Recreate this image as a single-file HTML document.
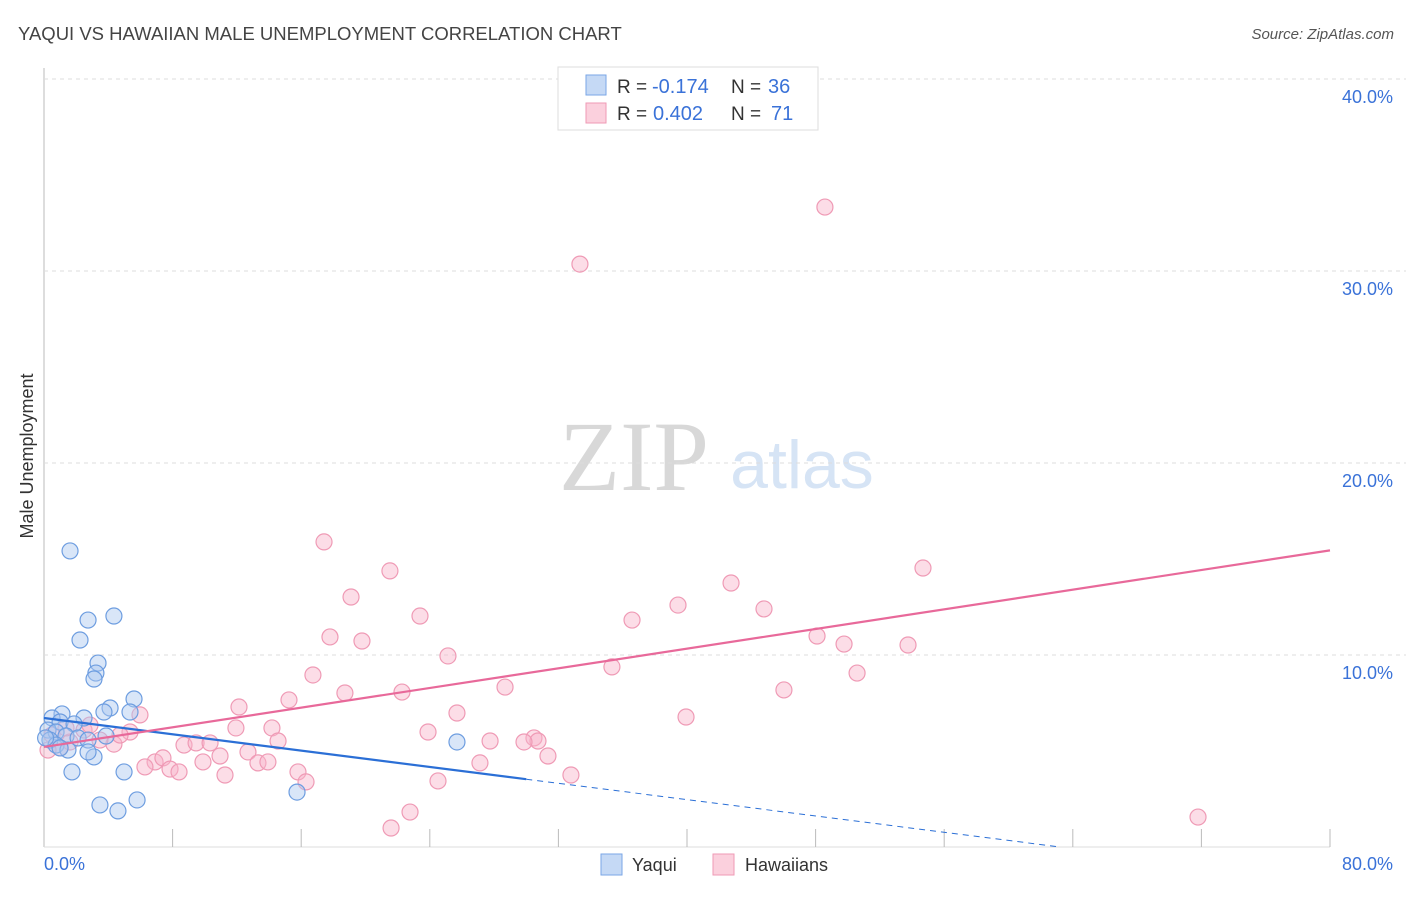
<!DOCTYPE html>
<html><head><meta charset="utf-8"><style>
body{margin:0;background:#fff;font-family:"Liberation Sans",sans-serif}
</style></head><body>
<svg id="c" width="1406" height="892" font-family="Liberation Sans, sans-serif" xmlns="http://www.w3.org/2000/svg">
<text x="18" y="40" font-size="18.5" fill="#444">YAQUI VS HAWAIIAN MALE UNEMPLOYMENT CORRELATION CHART</text>
<text x="1394" y="39" font-size="15" fill="#555" text-anchor="end" font-style="italic">Source: ZipAtlas.com</text>
<g>
<text x="634" y="490" font-size="100" fill="#d8d8d8" text-anchor="middle" style="font-family:'Liberation Serif',serif">ZIP</text>
<text x="802" y="488" font-size="68" fill="#d6e4f5" text-anchor="middle">atlas</text>
</g>
<text transform="translate(33,456) rotate(-90)" font-size="18" fill="#333" text-anchor="middle">Male Unemployment</text>
<g id="grid"></g><g id="marks"></g>
<g>
<rect x="558" y="67" width="260" height="63" fill="#fff" stroke="#ddd"/>
<rect x="586" y="75" width="20" height="20" fill="#c5d9f5" stroke="#7aa6e6"/>
<rect x="586" y="103" width="20" height="20" fill="#fbd0dd" stroke="#ef9ab5"/>
<text x="617" y="93" font-size="19" fill="#333">R =</text>
<text x="652" y="93" font-size="20" fill="#3a72d8">-0.174</text>
<text x="731" y="93" font-size="19" fill="#333">N =</text>
<text x="768" y="93" font-size="20" fill="#3a72d8">36</text>
<text x="617" y="120" font-size="19" fill="#333">R =</text>
<text x="653" y="120" font-size="20" fill="#3a72d8">0.402</text>
<text x="731" y="120" font-size="19" fill="#333">N =</text>
<text x="771" y="120" font-size="20" fill="#3a72d8">71</text>
</g>
<g>
<rect x="601" y="854" width="21" height="21" fill="#c5d9f5" stroke="#7aa6e6"/>
<text x="632" y="871" font-size="18" fill="#333">Yaqui</text>
<rect x="713" y="854" width="21" height="21" fill="#fbd0dd" stroke="#ef9ab5"/>
<text x="745" y="871" font-size="18" fill="#333">Hawaiians</text>
</g>
</svg>
<script>
const yTicks=[10,20,30,40];
const yTickLabels=["10.0%","20.0%","30.0%","40.0%"];
const yaquiX=[1.62,2.74,4.35,2.24,3.36,3.23,3.11,5.60,4.11,3.73,1.12,0.50,1.00,2.49,1.87,0.25,0.75,1.37,2.12,2.74,0.37,0.75,1.49,3.11,2.74,1.74,4.98,3.48,4.60,5.79,15.74,25.69,3.86,5.35,0.1,1.00];
const yaquiY=[15.42,11.82,12.03,10.78,9.58,9.06,8.75,7.71,7.24,7.03,6.93,6.72,6.51,6.72,6.41,6.09,5.99,5.78,5.68,5.57,5.57,5.31,5.05,4.69,4.95,3.91,3.91,2.19,1.88,2.45,2.86,5.47,5.78,7.03,5.68,5.16];
const hawX=[48.58,33.34,17.42,54.68,21.52,42.74,19.10,39.44,44.79,23.39,36.58,17.79,19.78,48.09,49.77,53.75,25.13,35.33,16.73,50.58,28.68,46.03,18.72,22.27,15.24,12.13,5.97,39.94,25.69,11.94,14.18,23.89,5.35,27.75,30.48,30.73,29.86,8.71,9.46,10.33,4.35,14.56,12.69,10.95,31.35,6.91,7.40,6.28,9.89,13.31,13.93,7.84,8.40,11.26,15.80,16.30,24.51,27.12,32.78,22.77,21.59,71.79,1.00,0.50,1.62,2.49,3.48,4.73,0.25,1.37,2.86];
const hawY=[33.33,30.36,15.89,14.53,14.38,13.75,13.02,12.60,12.40,12.03,11.82,10.94,10.73,10.99,10.57,10.52,9.95,9.38,8.96,9.06,8.33,8.18,8.02,8.07,7.66,7.29,6.88,6.77,6.98,6.20,6.20,5.99,5.99,5.52,5.68,5.52,5.47,5.31,5.42,5.42,5.36,5.52,4.95,4.74,4.74,4.43,4.64,4.17,4.43,4.38,4.43,4.06,3.91,3.75,3.91,3.39,3.44,4.38,3.75,1.82,0.99,1.56,5.16,5.83,5.47,6.09,5.57,5.83,5.05,6.20,6.35];
const yaquiTrend=[6.72,-0.1063];
const hawTrend=[5.21,0.128];
const NS="http://www.w3.org/2000/svg";
const X=v=>44+v*16.075, Y=v=>847-v*19.2;
function mk(t,a,p){const e=document.createElementNS(NS,t);for(const k in a)e.setAttribute(k,a[k]);p.appendChild(e);return e;}
const g=document.getElementById('grid'),m=document.getElementById('marks');
let ax=mk('line',{x1:44,y1:68,x2:44,y2:847,stroke:'#bbb'},g);


let bx=mk('line',{x1:44,y1:847,x2:1330,y2:847,stroke:'#ddd'},g);


yTicks.forEach((t,i)=>{
 let l=mk('line',{x1:44,y1:Y(t),x2:1420,y2:Y(t),stroke:'#ddd','stroke-dasharray':'4,4'},g);
 
 
 let tx=mk('text',{x:1393,y:Y(t)+24,'font-size':18,fill:'#3a72d8','text-anchor':'end'},g);tx.textContent=yTickLabels[i];
 
 
});
for(let v=8;v<=80;v+=8){let l=mk('line',{x1:X(v),y1:847,x2:X(v),y2:829,stroke:'#bbb'},g);
 
 }
let x0=mk('text',{x:44,y:870,'font-size':18,fill:'#3a72d8'},g);x0.textContent='0.0%';


let x1=mk('text',{x:1393,y:870,'font-size':18,fill:'#3a72d8','text-anchor':'end'},g);x1.textContent='80.0%';


hawX.forEach((v,i)=>{let c=mk('circle',{cx:X(v),cy:Y(hawY[i]),r:8,fill:'rgba(248,180,202,0.45)',stroke:'#ef9ab5','stroke-width':1.2},m);
 
 });
yaquiX.forEach((v,i)=>{let c=mk('circle',{cx:X(v),cy:Y(yaquiY[i]),r:8,fill:'rgba(170,200,240,0.45)',stroke:'#6d9de0','stroke-width':1.2},m);
 
 });
const yt=x=>yaquiTrend[0]+yaquiTrend[1]*x, ht=x=>hawTrend[0]+hawTrend[1]*x;
let t1=mk('line',{x1:X(0),y1:Y(yt(0)),x2:X(30),y2:Y(yt(30)),stroke:'#2b6fd6','stroke-width':2.2},m);


const xe=-yaquiTrend[0]/yaquiTrend[1];
let t2=mk('line',{x1:X(30),y1:Y(yt(30)),x2:X(xe),y2:Y(0),stroke:'#2b6fd6','stroke-width':1,'stroke-dasharray':'6,5'},m);


let t3=mk('line',{x1:X(0),y1:Y(ht(0)),x2:X(80),y2:Y(ht(80)),stroke:'#e8699a','stroke-width':2.2},m);


</script>
</body></html>
